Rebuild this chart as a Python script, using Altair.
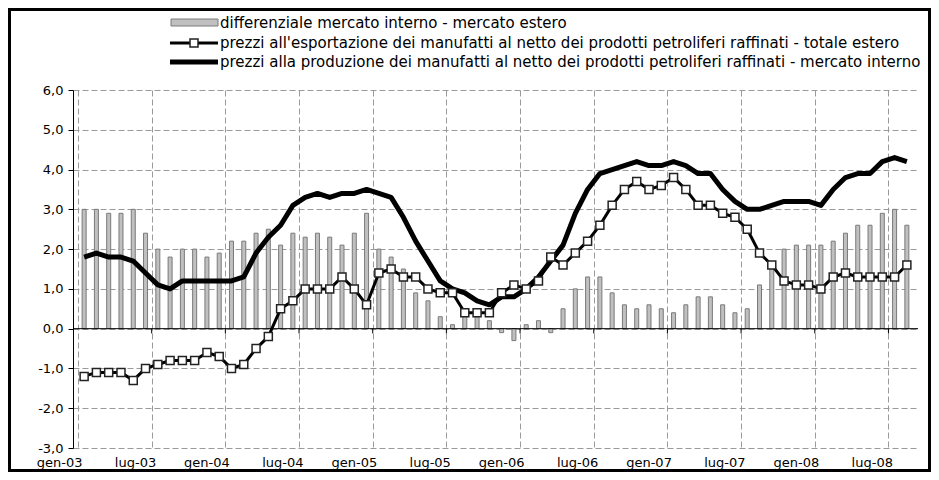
import json
import altair as alt
import pandas as pd

# ---------------- data ----------------
tick_labels = ["gen-03", "lug-03", "gen-04", "lug-04", "gen-05", "lug-05",
               "gen-06", "lug-06", "gen-07", "lug-07", "gen-08", "lug-08"]

y_ticks = [-3, -2, -1, 0, 1, 2, 3, 4, 5, 6]

legend_labels = [
    "differenziale mercato interno - mercato estero",
    "prezzi all'esportazione dei manufatti al netto dei prodotti petroliferi raffinati - totale estero",
    "prezzi alla produzione dei manufatti al netto dei prodotti petroliferi raffinati - mercato interno",
]

differenziale = [
    3.0, 3.0, 2.9, 2.9, 3.0, 2.4, 2.0, 1.8, 2.0, 2.0, 1.8, 1.9, 2.2, 2.2, 2.4, 2.5, 2.1,
    2.4, 2.3, 2.4, 2.3, 2.1, 2.4, 2.9, 2.0, 1.8, 1.5, 0.9, 0.7, 0.3, 0.1, 0.5, 0.3, 0.2,
    -0.1, -0.3, 0.1, 0.2, -0.1, 0.5, 1.0, 1.3, 1.3, 0.9, 0.6, 0.5, 0.6, 0.5, 0.4, 0.6, 0.8,
    0.8, 0.6, 0.4, 0.5, 1.1, 1.6, 2.0, 2.1, 2.1, 2.1, 2.2, 2.4, 2.6, 2.6, 2.9, 3.0, 2.6,
]

esportazione = [
    -1.2, -1.1, -1.1, -1.1, -1.3, -1.0, -0.9, -0.8, -0.8, -0.8, -0.6, -0.7, -1.0, -0.9, -0.5, -0.2, 0.5,
    0.7, 1.0, 1.0, 1.0, 1.3, 1.0, 0.6, 1.4, 1.5, 1.3, 1.3, 1.0, 0.9, 0.9, 0.4, 0.4, 0.4,
    0.9, 1.1, 1.0, 1.2, 1.8, 1.6, 1.9, 2.2, 2.6, 3.1, 3.5, 3.7, 3.5, 3.6, 3.8, 3.5, 3.1,
    3.1, 2.9, 2.8, 2.5, 1.9, 1.6, 1.2, 1.1, 1.1, 1.0, 1.3, 1.4, 1.3, 1.3, 1.3, 1.3, 1.6,
]

produzione = [
    1.8, 1.9, 1.8, 1.8, 1.7, 1.4, 1.1, 1.0, 1.2, 1.2, 1.2, 1.2, 1.2, 1.3, 1.9, 2.3, 2.6,
    3.1, 3.3, 3.4, 3.3, 3.4, 3.4, 3.5, 3.4, 3.3, 2.8, 2.2, 1.7, 1.2, 1.0, 0.9, 0.7, 0.6,
    0.8, 0.8, 1.0, 1.3, 1.7, 2.1, 2.9, 3.5, 3.9, 4.0, 4.1, 4.2, 4.1, 4.1, 4.2, 4.1, 3.9,
    3.9, 3.5, 3.2, 3.0, 3.0, 3.1, 3.2, 3.2, 3.2, 3.1, 3.5, 3.8, 3.9, 3.9, 4.2, 4.3, 4.2,
]

n = len(differenziale)
df = pd.DataFrame({
    "t": [i + 0.5 for i in range(n)],
    "diff": differenziale,
    "exp": esportazione,
    "prod": produzione,
})
bounds = pd.DataFrame({"b": list(range(6, n, 6))})

# ---------------- styling ----------------
FONT = "DejaVu Sans"
W, H = 845, 358
GRID = "#9a9a9a"

x_scale = alt.Scale(domain=[0, n], nice=False, zero=False)
y_scale = alt.Scale(domain=[min(y_ticks), max(y_ticks)], nice=False, zero=False)

x_axis = alt.Axis(
    values=list(range(0, n, 6)),
    labelExpr=json.dumps(tick_labels) + "[round(datum.value / 6)]",
    grid=True, gridDash=[6, 3], gridColor=GRID, gridWidth=1,
    ticks=False, domain=False,
    labelAlign="right", labelOffset=4, labelPadding=8,
    labelFont=FONT, labelFontSize=13, labelColor="black",
    labelOverlap=False, labelBound=False, title=None,
)
y_axis = alt.Axis(
    values=y_ticks,
    labelExpr="(datum.value < 0 ? '-' : '') + replace(format(abs(datum.value), '.1f'), '.', ',')",
    grid=True, gridDash=[6, 3], gridColor=GRID, gridWidth=1,
    tickSize=5, tickColor="black", domainColor="black", domainWidth=1,
    labelPadding=5, labelFont=FONT, labelFontSize=13, labelColor="black",
    labelOverlap=False, labelBound=False, labelFlush=False, title=None,
)


def X(field):
    return alt.X(field, scale=x_scale, axis=x_axis)


def Y(field):
    return alt.Y(field, scale=y_scale, axis=y_axis)


base = alt.Chart(df)

bars = base.mark_bar(size=4, fill="#c0c0c0", stroke="#7a7a7a", strokeWidth=1,
                     orient="vertical").encode(
    x=X("t:Q"), y=Y("diff:Q"), y2=alt.datum(0),
)

zero_line = alt.Chart(pd.DataFrame({"z": [0]})).mark_rule(color="black", strokeWidth=1).encode(
    y=Y("z:Q")
)

zero_ticks = alt.Chart(bounds).mark_rule(color="black", strokeWidth=1).encode(
    x=X("b:Q"),
    y=alt.YDatum(0, scale=y_scale, axis=y_axis),
    y2=alt.datum(-0.12),
)

prod_line = base.mark_line(color="black", strokeWidth=5, strokeJoin="round").encode(
    x=X("t:Q"), y=Y("prod:Q"),
)

exp_line = base.mark_line(color="black", strokeWidth=3, strokeJoin="round").encode(
    x=X("t:Q"), y=Y("exp:Q"),
)
exp_pts = base.mark_point(shape="square", filled=True, fill="white", stroke="#222222",
                          strokeWidth=1.5, size=64, opacity=1).encode(
    x=X("t:Q"), y=Y("exp:Q"),
)

# ---------------- manual legend ----------------
LX0, LX1, TX = 97, 145, 147
ROWS = [-67, -47, -28]
one = lambda: alt.Data(values=[{"k": 0}])

leg_rect = alt.Chart(one()).mark_rect(fill="#c0c0c0", stroke="#7a7a7a", strokeWidth=1).encode(
    x=alt.value(LX0 + 1), x2=alt.value(LX1), y=alt.value(ROWS[0] - 4), y2=alt.value(ROWS[0] + 3)
)
leg_l2 = alt.Chart(one()).mark_rule(color="black", strokeWidth=3).encode(
    x=alt.value(LX0), x2=alt.value(LX1), y=alt.value(ROWS[1])
)
leg_p2 = alt.Chart(one()).mark_point(shape="square", filled=True, fill="white", stroke="#222222",
                                     strokeWidth=1.5, size=64, opacity=1).encode(
    x=alt.value((LX0 + LX1) / 2), y=alt.value(ROWS[1])
)
leg_l3 = alt.Chart(one()).mark_rule(color="black", strokeWidth=5).encode(
    x=alt.value(LX0), x2=alt.value(LX1), y=alt.value(ROWS[2])
)
leg_texts = [
    alt.Chart(pd.DataFrame({"label": [lab]})).mark_text(
        align="left", baseline="middle", font=FONT, fontSize=15, color="black"
    ).encode(x=alt.value(TX), y=alt.value(ry), text="label:N")
    for lab, ry in zip(legend_labels, ROWS)
]

frame = alt.Chart(one()).mark_rect(fill="transparent", stroke="black", strokeWidth=3).encode(
    x=alt.value(-63.5), x2=alt.value(856.5), y=alt.value(-80.5), y2=alt.value(380.5)
)

chart = alt.layer(
    bars, zero_line, zero_ticks, prod_line, exp_line, exp_pts,
    leg_rect, leg_l2, leg_p2, leg_l3, *leg_texts, frame,
).properties(
    width=W, height=H,
    autosize=alt.AutoSizeParams(type="none"),
    padding={"left": 65, "top": 82, "right": 13, "bottom": 24},
    background="white",
).configure_view(stroke=None)

chart.save("out.html", embed_options={"renderer": "svg", "actions": False})
